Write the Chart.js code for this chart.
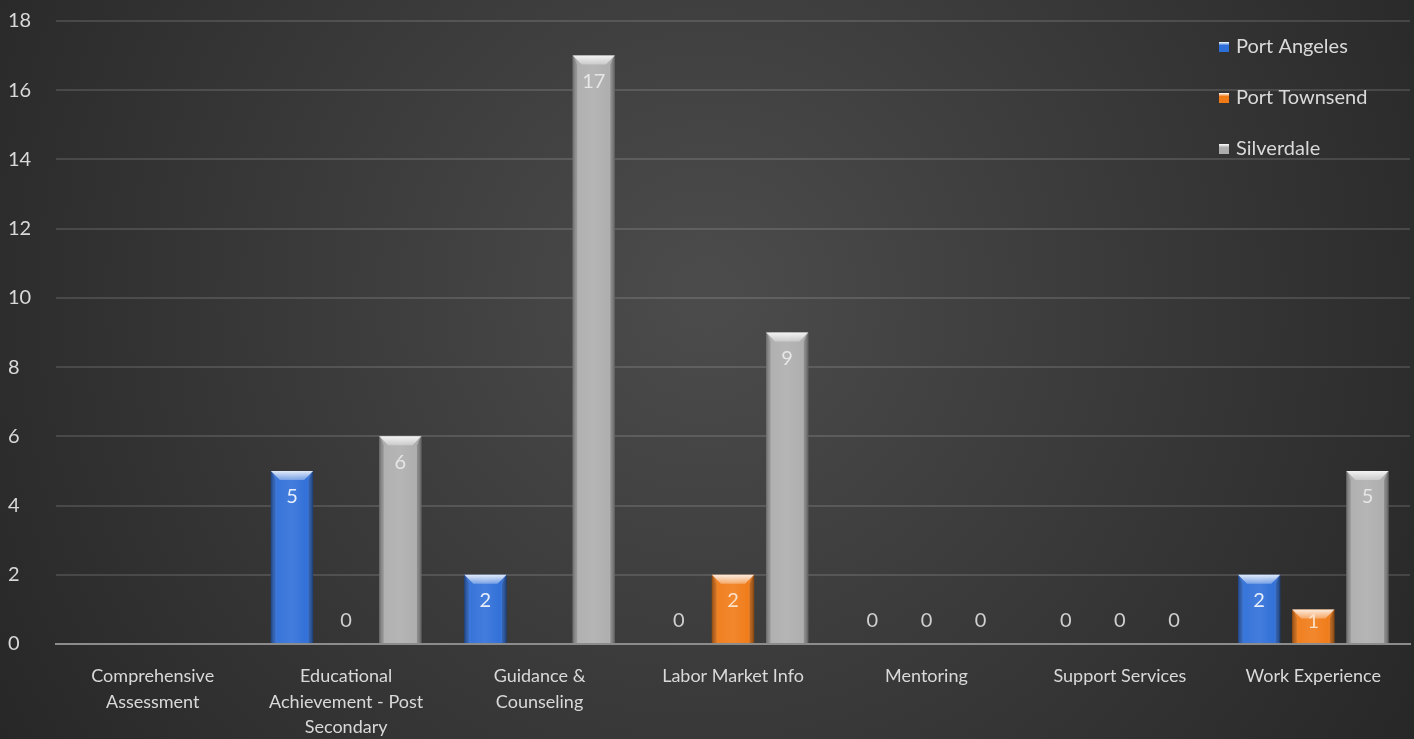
<!DOCTYPE html>
<html>
<head>
<meta charset="utf-8">
<script src="https://cdn.jsdelivr.net/npm/chart.js@4"></script>
<style>
  html, body { margin: 0; padding: 0; background: #2a2a2a; }
  #wrap { width: 1414px; height: 739px; }
</style>
</head>
<body>
<div id="wrap"><canvas id="servicesChart"></canvas></div>
<script>
const categories = [
    ["Comprehensive", "Assessment"],
    ["Educational", "Achievement - Post", "Secondary"],
    ["Guidance &", "Counseling"],
    "Labor Market Info",
    "Mentoring",
    "Support Services",
    "Work Experience"
];
const seriesNames = ["Port Angeles", "Port Townsend", "Silverdale"];
const portAngeles = [null, 5, 2, 0, 0, 0, 2];
const portTownsend = [null, 0, null, 2, 0, 0, 1];
const silverdale = [null, 6, 17, 9, 0, 0, 5];
const yMax = 18;
const yStep = 2;

const FONT = "Lato, 'Open Sans', sans-serif";
const colors = ["#2e6ed8", "#f07a16", "#adadad"];
const labelColors = ["#e6eefb", "#fbe0c8", "#e6e6e6"];

// dark radial background behind everything
const bgPlugin = {
    id: "bg",
    beforeDraw(chart) {
        const c = chart.ctx;
        const w = chart.width, h = chart.height;
        const g = c.createRadialGradient(w * 0.5, h * 0.4, 20, w * 0.5, h * 0.4, w * 0.62);
        g.addColorStop(0, "#4b4b4b");
        g.addColorStop(1, "#252525");
        c.save();
        c.fillStyle = g;
        c.fillRect(0, 0, w, h);
        c.restore();
    }
};

// bevel look on top of the plain bars + value labels
const bevelPlugin = {
    id: "bevel",
    afterDatasetsDraw(chart) {
        const c = chart.ctx;
        chart.data.datasets.forEach((ds, di) => {
            const meta = chart.getDatasetMeta(di);
            meta.data.forEach((bar, i) => {
                const v = ds.data[i];
                if (v === null || v === undefined) return;
                const p = bar.getProps(["x", "y", "base", "width"], true);
                const l = p.x - p.width / 2, r = p.x + p.width / 2;
                const top = p.y, bot = p.base;
                const h = bot - top;
                c.save();
                if (h > 1) {
                    const b = Math.min(9, h / 2);
                    // body shading
                    const g = c.createLinearGradient(l, 0, r, 0);
                    g.addColorStop(0, "rgba(0,0,0,0.30)");
                    g.addColorStop(0.15, "rgba(255,255,255,0.05)");
                    g.addColorStop(0.5, "rgba(255,255,255,0.10)");
                    g.addColorStop(0.85, "rgba(255,255,255,0.02)");
                    g.addColorStop(1, "rgba(0,0,0,0.35)");
                    c.fillStyle = g;
                    c.fillRect(l, top, p.width, h);
                    // top bevel
                    c.beginPath();
                    c.moveTo(l, top);
                    c.lineTo(r, top);
                    c.lineTo(r - b, top + b);
                    c.lineTo(l + b, top + b);
                    c.closePath();
                    const tg = c.createLinearGradient(0, top, 0, top + b);
                    tg.addColorStop(0, "rgba(255,255,255,0.85)");
                    tg.addColorStop(1, "rgba(255,255,255,0.30)");
                    c.fillStyle = tg;
                    c.fill();
                    // side bevels
                    c.beginPath();
                    c.moveTo(l, top);
                    c.lineTo(l + b * 0.5, top + b);
                    c.lineTo(l + b * 0.5, bot);
                    c.lineTo(l, bot);
                    c.closePath();
                    c.fillStyle = "rgba(0,0,0,0.12)";
                    c.fill();
                    c.beginPath();
                    c.moveTo(r, top);
                    c.lineTo(r - b * 0.5, top + b);
                    c.lineTo(r - b * 0.5, bot);
                    c.lineTo(r, bot);
                    c.closePath();
                    c.fillStyle = "rgba(0,0,0,0.18)";
                    c.fill();
                }
                // value label
                c.font = "20px " + FONT;
                c.textAlign = "center";
                c.textBaseline = "middle";
                let ly;
                if (v === 0) {
                    c.fillStyle = "#cfcfcf";
                    ly = bot - 23;
                } else {
                    c.fillStyle = labelColors[di];
                    ly = top + Math.min(26, h / 2 - 5);
                }
                c.fillText(String(v), p.x, ly);
                c.restore();
            });
        });
    }
};

// legend inside the plot, top right
const legendPlugin = {
    id: "insideLegend",
    afterDraw(chart) {
        const c = chart.ctx;
        const x0 = chart.chartArea.right - 191;
        c.save();
        c.font = "20px " + FONT;
        c.textBaseline = "middle";
        c.textAlign = "left";
        chart.data.datasets.forEach((ds, i) => {
            const y = chart.chartArea.top + 26 + i * 51;
            const g = c.createLinearGradient(0, y - 5, 0, y + 5);
            g.addColorStop(0, "#ffffff");
            g.addColorStop(0.35, ds.backgroundColor);
            g.addColorStop(1, ds.backgroundColor);
            c.fillStyle = g;
            c.fillRect(x0, y - 5, 10, 10);
            c.fillStyle = "#d9d9d9";
            c.fillText(ds.label, x0 + 17, y);
        });
        c.restore();
    }
};

const ctx = document.getElementById("servicesChart");

if (ctx) {
    new Chart(ctx, {
        type: "bar",
        data: {
            labels: categories,
            datasets: [
                { label: seriesNames[0], data: portAngeles, backgroundColor: colors[0] },
                { label: seriesNames[1], data: portTownsend, backgroundColor: colors[1] },
                { label: seriesNames[2], data: silverdale, backgroundColor: colors[2] }
            ]
        },
        options: {
            responsive: true,
            maintainAspectRatio: false,
            animation: false,
            categoryPercentage: 0.84,
            barPercentage: 0.78,
            layout: { padding: { top: 0, right: 4, left: 8, bottom: 0 } },
            plugins: {
                legend: { display: false },
                tooltip: { enabled: false }
            },
            scales: {
                x: {
                    grid: { display: false, drawTicks: false },
                    border: { color: "#8c8c8c", width: 2 },
                    ticks: {
                        color: "#d9d9d9",
                        font: { family: FONT, size: 18, lineHeight: 1.4 },
                        padding: 20,
                        maxRotation: 0,
                        autoSkip: false
                    },
                    afterFit(scale) { scale.height = 95; }
                },
                y: {
                    min: 0,
                    max: yMax,
                    grid: { color: "rgba(255,255,255,0.13)", lineWidth: 2, drawTicks: false },
                    border: { display: false },
                    ticks: {
                        stepSize: yStep,
                        color: "#d9d9d9",
                        font: { family: FONT, size: 20 },
                        crossAlign: "far",
                        padding: 9
                    },
                    afterFit(scale) { scale.width = 48; }
                }
            }
        },
        plugins: [bgPlugin, bevelPlugin, legendPlugin]
    });
}
</script>
</body>
</html>
